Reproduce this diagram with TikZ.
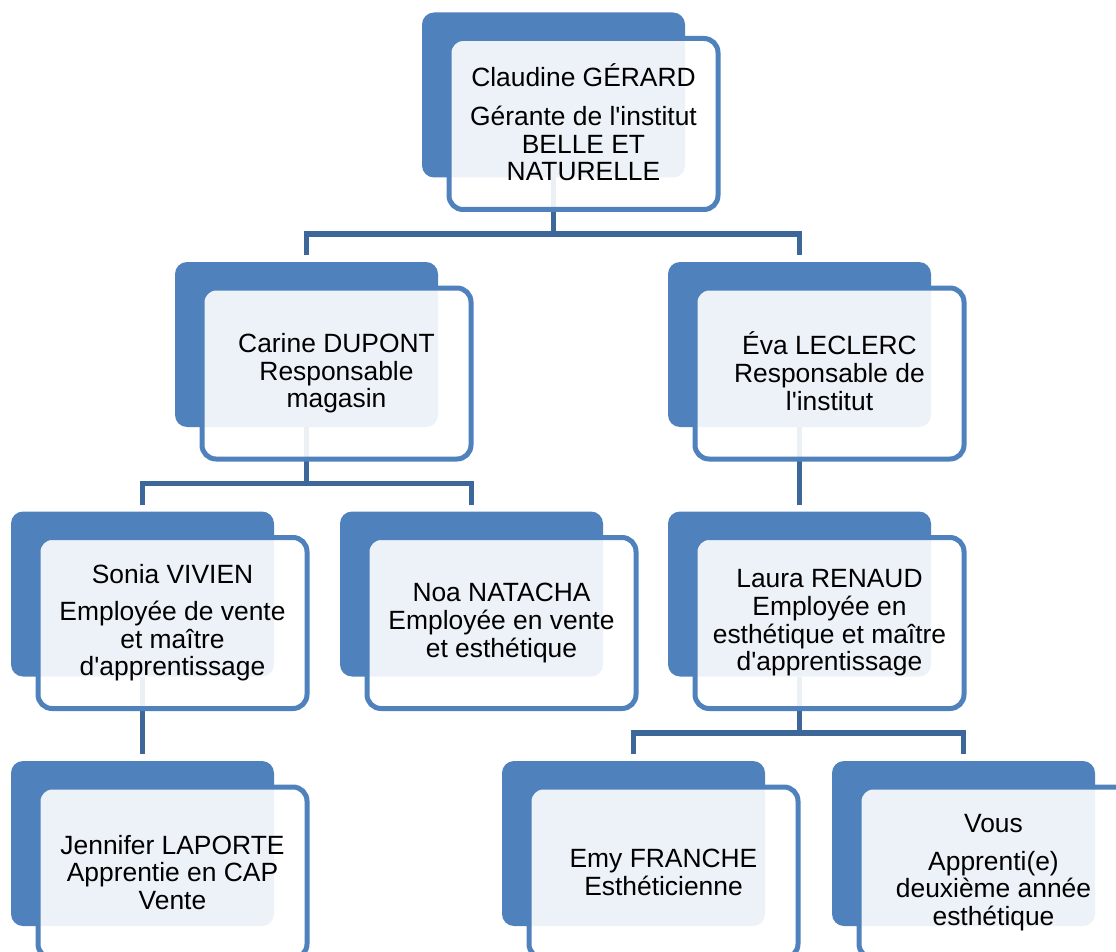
\documentclass[tikz,border=0pt]{standalone}
\usepackage{fontspec}
\newfontfamily\chartfont{Liberation Sans}[Ligatures=TeXOff]
\usetikzlibrary{positioning}
\pgfdeclarelayer{background}
\pgfsetlayers{background,main}
\definecolor{accentblue}{HTML}{4F81BD}
\definecolor{linkblue}{HTML}{3D6699}
\begin{document}
\begin{tikzpicture}[x=1pt,y=-1pt,
        back/.style={fill=accentblue, rounded corners=12pt, minimum width=263pt,
            minimum height=165pt, inner sep=0pt, outer sep=0pt, anchor=north west},
        front/.style={draw=accentblue, line width=5pt, fill=white, fill opacity=0.9,
            text opacity=1, rounded corners=14pt, minimum width=269pt, minimum height=171pt,
            inner sep=0pt, outer sep=0pt, align=center, text=black,
            font=\chartfont\fontsize{26.4}{27.6}\selectfont},
        link/.style={draw=linkblue, line width=5.5pt, shorten >=7pt}]
        \useasboundingbox (0,0) rectangle (1116,952);
        \clip (0,0) rectangle (1116,952);

        % back cards
        \node[back] (gerante-b) at (422,12.5) {};
        \node[back] (carine-b) at (175,262) {};
        \node[back] (eva-b) at (668,262) {};
        \node[back] (sonia-b) at (11,511.5) {};
        \node[back] (noa-b) at (340,511.5) {};
        \node[back] (laura-b) at (668,511.5) {};
        \node[back] (jennifer-b) at (11,761) {};
        \node[back] (emy-b) at (502,761) {};
        \node[back] (vous-b) at (832,761) {};

        % front cards
        \node[front, below right=26pt and 27pt of gerante-b.north west, anchor=north west] (gerante)
            {Claudine G\smash{É}RARD\\[12pt]Gérante de l'institut\\BELLE ET\\NATURELLE};
        \node[front, below right=26pt and 27pt of carine-b.north west, anchor=north west] (carine)
            {Carine DUPONT\\Responsable\\magasin};
        \node[front, below right=26pt and 27pt of eva-b.north west, anchor=north west] (eva)
            {\smash{É}va LECLERC\\Responsable de\\l'institut};
        \node[front, below right=26pt and 27pt of sonia-b.north west, anchor=north west] (sonia)
            {Sonia VIVIEN\\[9.5pt]Employée de vente\\et maître\\d'apprentissage};
        \node[front, below right=26pt and 27pt of noa-b.north west, anchor=north west] (noa)
            {Noa NATACHA\\Employée en vente\\et esthétique};
        \node[front, below right=26pt and 27pt of laura-b.north west, anchor=north west] (laura)
            {Laura RENAUD\\Employée en\\esthétique et maître\\d'apprentissage};
        \node[front, below right=26pt and 27pt of jennifer-b.north west, anchor=north west] (jennifer)
            {Jennifer LAPORTE\\Apprentie en CAP\\Vente};
        \node[front, below right=26pt and 27pt of emy-b.north west, anchor=north west] (emy)
            {Emy FRANCHE\\Esthéticienne};
        \node[front, below right=26pt and 27pt of vous-b.north west, anchor=north west] (vous)
            {Vous\\[10.5pt]Apprenti(e)\\deuxième année\\esthétique};

        \begin{pgfonlayer}{background}
            \draw[link] (gerante-b.south) -- ++(0,56.5) -| (carine-b.north);
            \draw[link] (gerante-b.south) -- ++(0,56.5) -| (eva-b.north);
            \draw[link] (carine-b.south) -- ++(0,56.5) -| (sonia-b.north);
            \draw[link] (carine-b.south) -- ++(0,56.5) -| (noa-b.north);
            \draw[link] (eva-b.south) -- (laura-b.north);
            \draw[link] (sonia-b.south) -- (jennifer-b.north);
            \draw[link] (laura-b.south) -- ++(0,56.5) -| (emy-b.north);
            \draw[link] (laura-b.south) -- ++(0,56.5) -| (vous-b.north);
        \end{pgfonlayer}
    \end{tikzpicture}
\end{document}
